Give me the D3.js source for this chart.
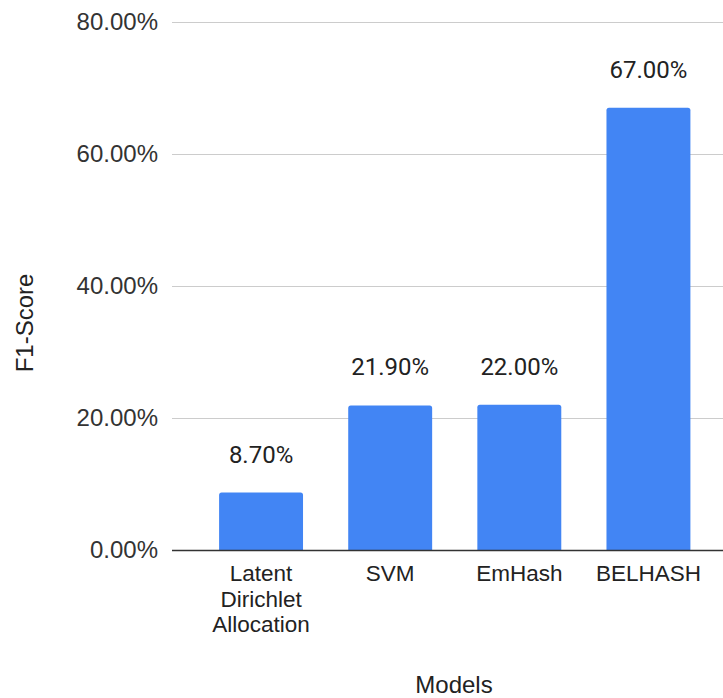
<!DOCTYPE html>
<html>
<head>
<meta charset="utf-8">
<script src="https://cdn.jsdelivr.net/npm/d3@7"></script>
<style>
  body { margin: 0; background: #fff; }
  svg { display: block; }
</style>
</head>
<body>
<div class="container"></div>
<script>
let models = ['Latent Dirichlet Allocation', 'SVM', 'EmHash', 'BELHASH']
let modelLines = [['Latent', 'Dirichlet', 'Allocation'], ['SVM'], ['EmHash'], ['BELHASH']]
let scores = [8.7, 21.9, 22.0, 67.0]
let yTicks = [0, 20, 40, 60, 80]

let width = 723
let height = 698
let margin = { top: 22, left: 172, bottom: 148, right: 0 }

let svg = d3.select('.container')
    .append('svg')
    .attr('width', width)
    .attr('height', height)

let yScale = d3.scaleLinear()
    .domain([0, 80])
    .range([height - margin.bottom, margin.top])

let xScale = d3.scaleBand()
    .domain(models)
    .range([196.5, 713])
    .paddingInner(0.35)
    .paddingOuter(0.175)

// gridlines
svg.append('g')
    .selectAll('line')
    .data(yTicks.filter(d => d > 0))
    .enter()
    .append('line')
    .attr('x1', margin.left)
    .attr('x2', width)
    .attr('y1', d => yScale(d) + 0.5)
    .attr('y2', d => yScale(d) + 0.5)
    .attr('stroke', '#cccccc')
    .attr('stroke-width', 1.2)

// y axis labels
let yAxis = d3.axisLeft(yScale)
    .tickValues(yTicks)
    .tickSize(0)
    .tickPadding(14)
    .tickFormat(d => d.toFixed(2) + '%')

svg.append('g')
    .attr('transform', `translate(${margin.left},0)`)
    .call(yAxis)
    .call(g => g.select('.domain').remove())
    .selectAll('text')
    .attr('font-family', '"Liberation Sans", Arial, sans-serif')
    .attr('font-size', 24)
    .attr('fill', '#333')
    .attr('dy', '0.33em')

// bars with rounded tops
let r = 2.5
svg.append('g')
    .selectAll('path')
    .data(scores)
    .enter()
    .append('path')
    .attr('fill', '#4285f4')
    .attr('d', (d, i) => {
        let x0 = xScale(models[i])
        let x1 = x0 + xScale.bandwidth()
        let y0 = yScale(0)
        let y1 = yScale(d)
        return `M${x0},${y0}V${y1 + r}Q${x0},${y1} ${x0 + r},${y1}H${x1 - r}Q${x1},${y1} ${x1},${y1 + r}V${y0}Z`
    })

// baseline
svg.append('line')
    .attr('x1', margin.left)
    .attr('x2', width)
    .attr('y1', yScale(0) + 0.5)
    .attr('y2', yScale(0) + 0.5)
    .attr('stroke', '#333')
    .attr('stroke-width', 1.5)

// value labels
svg.append('g')
    .selectAll('text')
    .data(scores)
    .enter()
    .append('text')
    .attr('x', (d, i) => xScale(models[i]) + xScale.bandwidth() / 2)
    .attr('y', d => yScale(d) - 30)
    .attr('text-anchor', 'middle')
    .attr('font-family', 'Roboto, sans-serif')
    .attr('font-size', 24)
    .attr('fill', '#222')
    .text(d => d.toFixed(2) + '%')

// category labels
let cat = svg.append('g')
    .selectAll('text')
    .data(models)
    .enter()
    .append('text')
    .attr('x', d => xScale(d) + xScale.bandwidth() / 2)
    .attr('y', 581)
    .attr('text-anchor', 'middle')
    .attr('font-family', '"Liberation Sans", Arial, sans-serif')
    .attr('font-size', 22.5)
    .attr('fill', '#222')

cat.selectAll('tspan')
    .data((d, i) => modelLines[i])
    .enter()
    .append('tspan')
    .attr('x', function () { return this.parentNode.getAttribute('x') })
    .attr('dy', (d, i) => i === 0 ? 0 : 25.5)
    .text(d => d)

// axis titles
svg.append('text')
    .attr('x', 454)
    .attr('y', 693)
    .attr('text-anchor', 'middle')
    .attr('font-family', '"Liberation Sans", Arial, sans-serif')
    .attr('font-size', 24)
    .attr('fill', '#222')
    .text('Models')

svg.append('text')
    .attr('transform', 'translate(33,323) rotate(-90)')
    .attr('text-anchor', 'middle')
    .attr('font-family', '"Liberation Sans", Arial, sans-serif')
    .attr('font-size', 24)
    .attr('fill', '#222')
    .text('F1-Score')
</script>
</body>
</html>
